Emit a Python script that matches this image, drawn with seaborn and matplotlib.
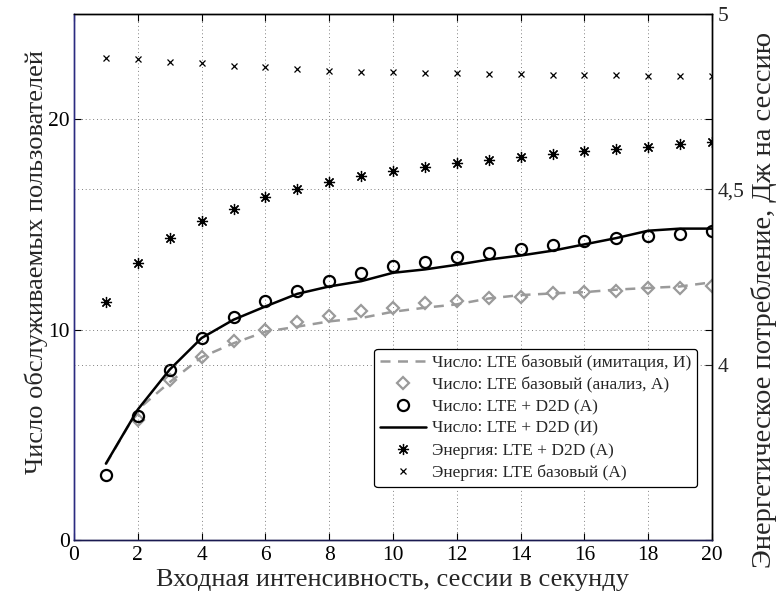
import matplotlib
matplotlib.use('Agg')
import matplotlib.pyplot as plt
import seaborn as sns
import pandas as pd
from matplotlib.lines import Line2D

# ---------------- data ----------------
x = list(range(1, 21))
base_sim = [3.6, 6.2, 7.5, 8.69, 9.35, 9.9, 10.14, 10.39, 10.55, 10.85,
            11.04, 11.2, 11.48, 11.64, 11.72, 11.78, 11.9, 11.98, 12.05, 12.25]
base_an = [None, 5.69, 7.6, 8.72, 9.48, 10.0, 10.35, 10.63, 10.88, 11.03,
           11.26, 11.34, 11.5, 11.56, 11.72, 11.77, 11.85, 11.96, 11.96, 12.05]
d2d_an = [3.08, 5.89, 8.10, 9.6, 10.6, 11.34, 11.85, 12.29, 12.67, 13.0,
          13.19, 13.46, 13.66, 13.82, 14.0, 14.2, 14.35, 14.45, 14.55, 14.7]
d2d_sim = [3.63, 6.2, 8.1, 9.6, 10.47, 11.1, 11.7, 12.05, 12.3, 12.7,
           12.86, 13.08, 13.33, 13.52, 13.75, 14.05, 14.35, 14.7, 14.8, 14.8]
energy_d2d = [4.178, 4.289, 4.36, 4.41, 4.445, 4.478, 4.50, 4.52, 4.537, 4.552,
              4.563, 4.574, 4.584, 4.592, 4.60, 4.608, 4.615, 4.622, 4.628, 4.634]
energy_base = [4.874, 4.871, 4.864, 4.859, 4.851, 4.848, 4.842, 4.838, 4.836, 4.836,
               4.833, 4.831, 4.829, 4.829, 4.826, 4.826, 4.825, 4.823, 4.822, 4.822]

x_ticks = list(range(0, 21, 2))
left_ticks = [0, 10, 20]
right_ticks = [4, 4.5, 5]
right_tick_labels = ['4', '4,5', '5']

labels = ['Число: LTE базовый (имитация, И)',
          'Число: LTE базовый (анализ, А)',
          'Число: LTE + D2D (А)',
          'Число: LTE + D2D (И)',
          'Энергия: LTE + D2D (А)',
          'Энергия: LTE базовый (А)']

df = pd.DataFrame({'x': x, 'base_sim': base_sim, 'base_an': base_an,
                   'd2d_an': d2d_an, 'd2d_sim': d2d_sim,
                   'energy_d2d': energy_d2d, 'energy_base': energy_base})

# ---------------- style ----------------
sns.set_style('ticks')
plt.rcParams['font.family'] = ['Liberation Serif', 'DejaVu Serif']
plt.rcParams['xtick.direction'] = 'in'
plt.rcParams['ytick.direction'] = 'in'

GRAY = '#9a9a9a'

fig = plt.figure(figsize=(7.78, 5.96), dpi=100)
ax = fig.add_axes([74 / 778, 1 - 540 / 596, (712 - 74) / 778, (540 - 14) / 596])
ax2 = ax.twinx()

# left axis series
sns.lineplot(data=df, x='x', y='base_sim', ax=ax, color=GRAY, lw=1.8,
             linestyle=(0, (4, 3)), label=labels[0], legend=False)
sns.lineplot(data=df, x='x', y='base_an', ax=ax, color=GRAY, linestyle='',
             marker='D', markersize=6.5, markerfacecolor='none',
             markeredgecolor=GRAY, markeredgewidth=1.6, label=labels[1], legend=False)
sns.lineplot(data=df, x='x', y='d2d_an', ax=ax, color='black', linestyle='',
             marker='o', markersize=8, markerfacecolor='none',
             markeredgecolor='black', markeredgewidth=1.6, label=labels[2], legend=False)
sns.lineplot(data=df, x='x', y='d2d_sim', ax=ax, color='black', lw=1.8,
             label=labels[3], legend=False)

# right axis series
sns.lineplot(data=df, x='x', y='energy_d2d', ax=ax2, color='black', linestyle='',
             marker=(8, 2, 0), markersize=8, markeredgewidth=0.9,
             markeredgecolor='black', label=labels[4], legend=False)
sns.lineplot(data=df, x='x', y='energy_base', ax=ax2, color='black', linestyle='',
             marker='x', markersize=5, markeredgewidth=0.9,
             markeredgecolor='black', label=labels[5], legend=False)

# axes limits / ticks
ax.set_xlim(0, 20)
ax.set_ylim(0, 25)
ax2.set_ylim(3.5, 5)
ax.set_xticks(x_ticks)
ax.set_yticks(left_ticks)
ax2.set_yticks(right_ticks)
ax2.set_yticklabels(right_tick_labels)

grid_kw = dict(color='#555555', linestyle=(0, (1, 3.5)), linewidth=0.6)
ax.grid(True, axis='both', **grid_kw)
ax2.grid(True, axis='y', **grid_kw)

ax.tick_params(axis='both', which='both', direction='in', length=5, width=0.8,
               labelsize=15.5, top=True, pad=4, colors='black')
ax.tick_params(axis='y', right=True, labelright=False, pad=3)
ax2.tick_params(axis='y', direction='in', length=5, width=0.8, labelsize=15.5, pad=4)

for a in (ax, ax2):
    for s in a.spines.values():
        s.set_linewidth(1.0)
        s.set_color('black')
ax.spines['left'].set_color('#2b2b80')
ax2.spines['left'].set_color('#2b2b80')
ax.spines['bottom'].set_color('#1a1a50')
ax2.spines['bottom'].set_color('#1a1a50')

ax.set_xlabel('Входная интенсивность, сессии в секунду', fontsize=19)
ax.xaxis.set_label_coords(0.5, -(580 - 540) / 526)
ax.xaxis.label.set_va('center')
ax.set_ylabel('Число обслуживаемых пользователей', fontsize=19,
              va='center', ha='center')
ax.yaxis.set_label_coords(-(74 - 36) / 638, (540 - 262) / 526)
ax2.set_ylabel('Энергетическое потребление, Дж на сессию', fontsize=20.5,
               rotation=90, va='center', ha='center')
ax2.yaxis.set_label_coords(1 + (764 - 712) / 638, (540 - 300) / 526)

# legend
handles = [
    Line2D([], [], color=GRAY, lw=1.8, linestyle=(0, (4, 3))),
    Line2D([], [], color=GRAY, linestyle='', marker='D', markersize=6.5,
           markerfacecolor='none', markeredgecolor=GRAY, markeredgewidth=1.6),
    Line2D([], [], color='black', linestyle='', marker='o', markersize=8,
           markerfacecolor='none', markeredgewidth=1.6),
    Line2D([], [], color='black', lw=1.8),
    Line2D([], [], color='black', linestyle='', marker=(8, 2, 0), markersize=8,
           markeredgewidth=0.9),
    Line2D([], [], color='black', linestyle='', marker='x', markersize=5,
           markeredgewidth=0.9),
]
leg = ax2.legend(handles, labels, loc='lower right',
                 bbox_to_anchor=(697 / 778, 1 - 487 / 596),
                 bbox_transform=fig.transFigure, fontsize=12.5,
                 frameon=True, fancybox=True, framealpha=1, edgecolor='black',
                 handlelength=2.6, handletextpad=0.35, labelspacing=0.33,
                 borderpad=0.35, borderaxespad=0)
leg.get_frame().set_linewidth(0.9)

fig.savefig('out.png', dpi=100)
